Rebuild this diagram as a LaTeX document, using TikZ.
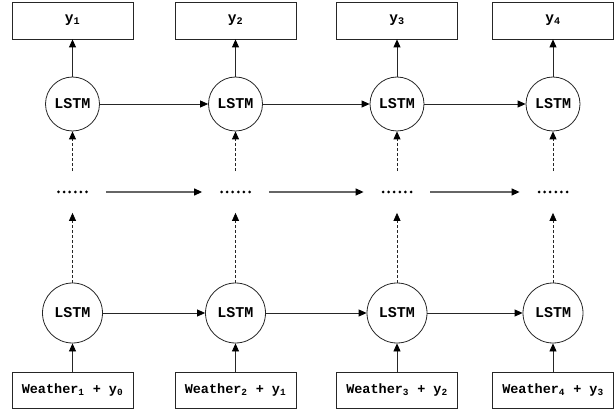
\documentclass[tikz,border=0pt]{standalone}
\usepackage{fontspec}
\setmainfont{Liberation Mono}
\usetikzlibrary{arrows.meta}
\begin{document}
\begin{tikzpicture}[x=1pt,y=-1pt,
  font=\fontsize{13.5}{16}\selectfont\bfseries,
  line width=0.8pt,
  outbox/.style={draw=black!85, rectangle, minimum width=121pt, minimum height=37pt, inner sep=0pt, font=\fontsize{14.5}{16}\selectfont\bfseries},
  inbox/.style={draw=black!85, rectangle, minimum width=121pt, minimum height=36pt, inner sep=0pt},
  topcell/.style={draw=black!85, circle, minimum size=54pt, inner sep=0pt, font=\fontsize{15}{16}\selectfont\bfseries},
  botcell/.style={draw=black!85, circle, minimum size=60pt, inner sep=0pt, font=\fontsize{15}{16}\selectfont\bfseries},
  dotsbox/.style={rectangle, minimum width=66pt, minimum height=41pt, inner sep=0pt},
  arr/.style={draw=black!85, -{Triangle[length=8pt,width=7pt,color=black]}},
  darr/.style={arr, dash pattern=on 3pt off 2pt},
  midarr/.style={arr, line width=1.2pt, draw=black!60}
]
\useasboundingbox (0,0) rectangle (614,409);

\node[outbox] (y1) at (72.5,20.5) {y\textsubscript{1}};
\node[outbox] (y2) at (235.5,20.5) {y\textsubscript{2}};
\node[outbox] (y3) at (397,20.5) {y\textsubscript{3}};
\node[outbox] (y4) at (553,20.5) {y\textsubscript{4}};

\node[topcell] (t1) at (72.5,104) {LSTM};
\node[topcell] (t2) at (235.5,104) {LSTM};
\node[topcell] (t3) at (397,104) {LSTM};
\node[topcell] (t4) at (553,104) {LSTM};

\node[dotsbox] (d1) at (72.5,192) {};
\node[dotsbox] (d2) at (235.5,192) {};
\node[dotsbox] (d3) at (397,192) {};
\node[dotsbox] (d4) at (553,192) {};
\foreach \d in {d1,d2,d3,d4}{
  \foreach \k in {0,...,5}{
    \fill[black] ([xshift={-14pt+5.6pt*\k}]\d.center) circle (1.5pt);
  }
}

\node[botcell] (b1) at (72.5,313) {LSTM};
\node[botcell] (b2) at (235.5,313) {LSTM};
\node[botcell] (b3) at (397,313) {LSTM};
\node[botcell] (b4) at (553,313) {LSTM};

\node[inbox] (w1) at (72.5,390) {Weather\textsubscript{1} + y\textsubscript{0}};
\node[inbox] (w2) at (235.5,390) {Weather\textsubscript{2} + y\textsubscript{1}};
\node[inbox] (w3) at (397,390) {Weather\textsubscript{3} + y\textsubscript{2}};
\node[inbox] (w4) at (553,390) {Weather\textsubscript{4} + y\textsubscript{3}};

\foreach \i in {1,2,3,4}{
  \draw[arr] (t\i) -- (y\i);
  \draw[darr] (d\i.north) -- (t\i);
  \draw[darr] (b\i) -- (d\i.south);
  \draw[arr] (w\i) -- (b\i);
}
\draw[arr] (t1) -- (t2);
\draw[arr] (t2) -- (t3);
\draw[arr] (t3) -- (t4);
\draw[midarr] (d1.east) -- (d2.west);
\draw[midarr] (d2.east) -- (d3.west);
\draw[midarr] (d3.east) -- (d4.west);
\draw[arr] (b1) -- (b2);
\draw[arr] (b2) -- (b3);
\draw[arr] (b3) -- (b4);
\end{tikzpicture}
\end{document}
